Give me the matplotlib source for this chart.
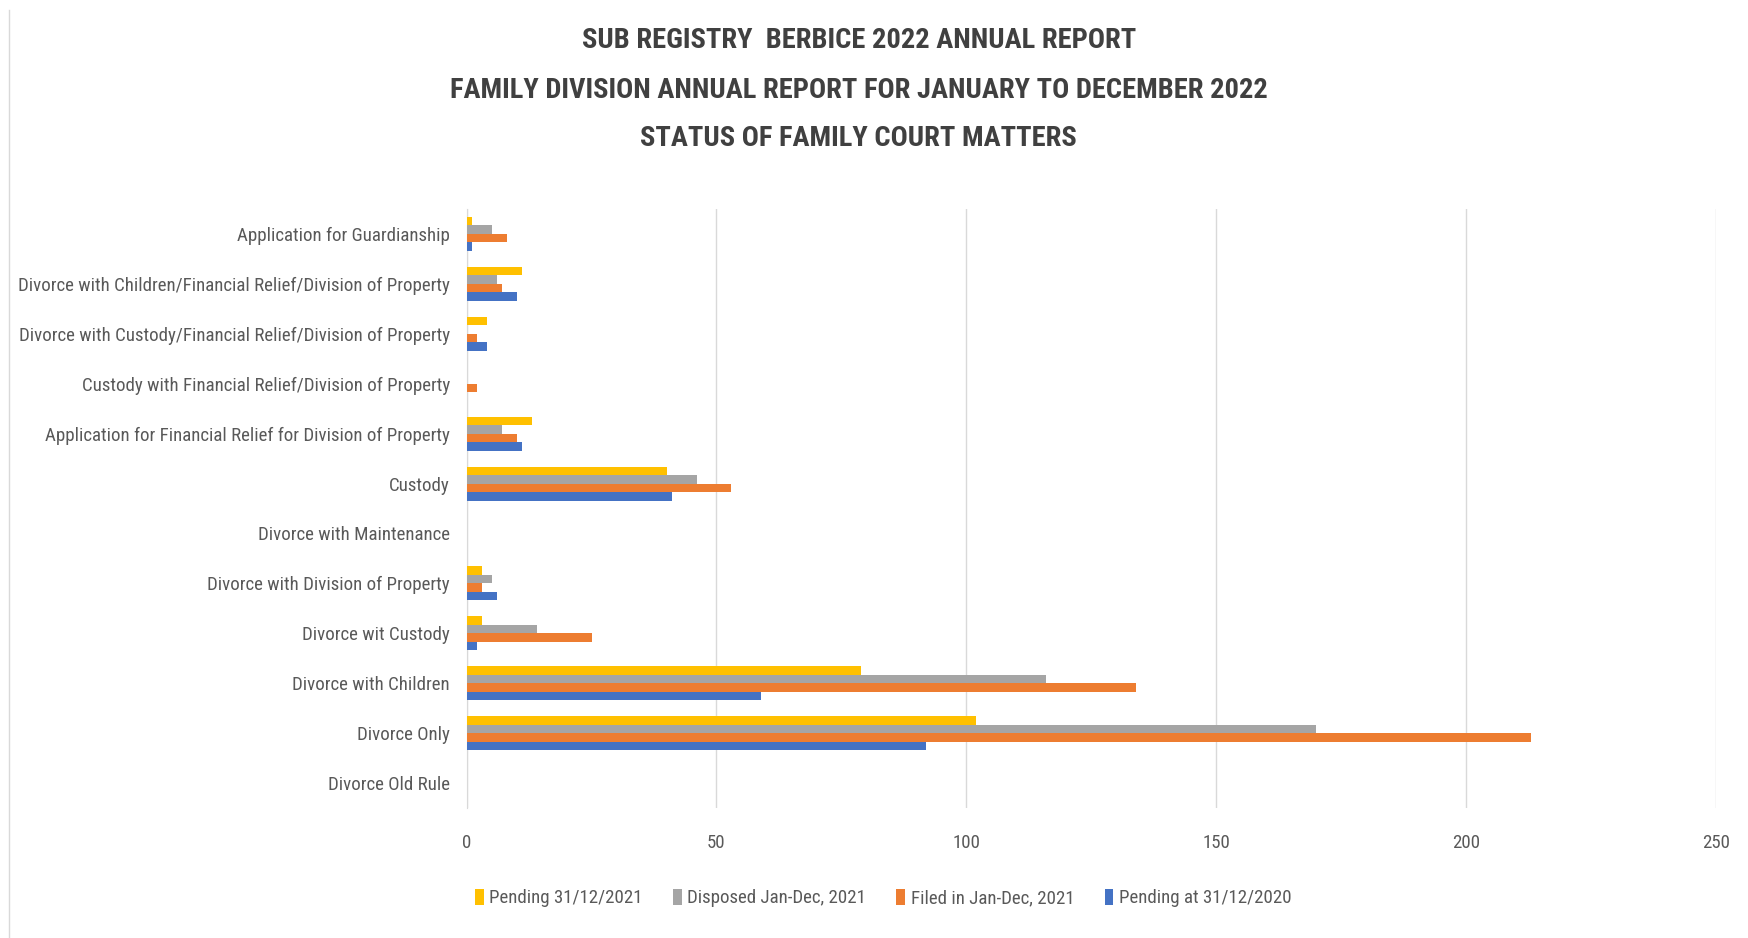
import os
import matplotlib
matplotlib.use("Agg")
import matplotlib.pyplot as plt
from matplotlib.lines import Line2D
from matplotlib.font_manager import FontProperties, fontManager
import numpy as np

plt.rcParams['font.family'] = ['Noto Sans', 'DejaVu Sans']

categories = [
    "Divorce Old Rule",
    "Divorce Only",
    "Divorce with Children",
    "Divorce wit Custody",
    "Divorce with Division of Property",
    "Divorce with Maintenance",
    "Custody",
    "Application for Financial Relief for Division of Property",
    "Custody with Financial Relief/Division of Property",
    "Divorce with Custody/Financial Relief/Division of Property",
    "Divorce with Children/Financial Relief/Division of Property",
    "Application for Guardianship",
]
pending_2020 = [0, 92, 59, 2, 6, 0, 41, 11, 0, 4, 10, 1]
filed_2021 = [0, 213, 134, 25, 3, 0, 53, 10, 2, 2, 7, 8]
disposed_2021 = [0, 170, 116, 14, 5, 0, 46, 7, 0, 0, 6, 5]
pending_2021 = [0, 102, 79, 3, 3, 0, 40, 13, 0, 4, 11, 1]

series_names = ["Pending at 31/12/2020", "Filed in Jan-Dec, 2021",
                "Disposed Jan-Dec, 2021", "Pending 31/12/2021"]
colors = ["#4472C4", "#ED7D31", "#A5A5A5", "#FFC000"]
xticks = [0, 50, 100, 150, 200, 250]
titles = ["SUB REGISTRY  BERBICE 2022 ANNUAL REPORT",
          "FAMILY DIVISION ANNUAL REPORT FOR JANUARY TO DECEMBER 2022",
          "STATUS OF FAMILY COURT MATTERS"]


def find_font(bold):
    patterns = ['notosans-extracondensed', 'liberationsansnarrow', 'robotocondensed',
                'opensanscondensed', 'opensans_condensed', 'notosans-condensed',
                'dejavusanscondensed']
    bad_reg = ['bold', 'light', 'thin', 'medium', 'black', 'semi', 'italic', 'oblique', 'extralight']
    for pat in patterns:
        for f in fontManager.ttflist:
            fn = os.path.basename(f.fname).lower().replace(' ', '')
            if pat not in fn:
                continue
            if 'italic' in fn or 'oblique' in fn:
                continue
            rest = fn.replace(pat, '')
            if bold:
                if 'bold' in rest and 'semi' not in rest and 'extrabold' not in rest:
                    return f.fname
            else:
                if not any(b in rest for b in bad_reg):
                    return f.fname
    return None


reg_path = find_font(False)
bold_path = find_font(True)


def fp(size, bold=False):
    path = bold_path if bold else reg_path
    if path:
        return FontProperties(fname=path, size=size)
    return FontProperties(family=['Roboto', 'DejaVu Sans'], size=size,
                          weight='bold' if bold else 'normal')


fig = plt.figure(figsize=(17.49, 9.38), dpi=100)
ax = fig.add_axes([0.2668, 0.1386, 0.7143, 0.6386])

y = np.arange(len(categories))
h = 0.17
data = [pending_2020, filed_2021, disposed_2021, pending_2021]
handles = []
for i, (vals, name, c) in enumerate(zip(data, series_names, colors)):
    off = (i - 1.5) * h
    b = ax.barh(y + off, vals, height=h, color=c, label=name, zorder=3)
    handles.append(b)

ax.set_ylim(-0.5, len(categories) - 0.5)
ax.set_xlim(0, 250)
ax.set_xticks(xticks)
ax.set_xticklabels([str(t) for t in xticks])
ax.set_yticks(y)
ax.set_yticklabels(categories)
ax.tick_params(axis='both', length=0, colors='#595959')
ax.tick_params(axis='x', pad=19)
ax.tick_params(axis='y', pad=12)
ax.grid(axis='x', color='#D9D9D9', linewidth=1, zorder=0)
for s in ['top', 'right', 'bottom']:
    ax.spines[s].set_visible(False)
ax.spines['left'].set_color('#D9D9D9')

# fit label size so that the longest category label is ~430 px wide
renderer = fig.canvas.get_renderer()
probe = fig.text(0, 0, categories[9], fontproperties=fp(10))
w10 = probe.get_window_extent(renderer).width
probe.remove()
lab_size = min(16.0, 10 * 430 / w10)
for lab in ax.get_yticklabels() + ax.get_xticklabels():
    lab.set_fontproperties(fp(lab_size))

# titles, fitted to the reference width of the second line (~814 px)
probe = fig.text(0, 0, titles[1], fontproperties=fp(10, True))
wt = probe.get_window_extent(renderer).width
probe.remove()
title_size = min(26.0, 10 * 814 / wt)
for t, yy in zip(titles, [40, 90, 139]):
    fig.text(0.491, 1 - yy / 938, t, ha='center', va='center',
             fontproperties=fp(title_size, True), color='#404040')

leg = fig.legend(handles[::-1], series_names[::-1], loc='center',
                 bbox_to_anchor=(0.505, 1 - 898 / 938), ncol=4, frameon=False,
                 prop=fp(lab_size), handlelength=0.45, handleheight=0.9,
                 handletextpad=0.3, columnspacing=1.6)
for txt in leg.get_texts():
    txt.set_color('#595959')

fig.add_artist(Line2D([9 / 1749, 9 / 1749], [0, 1 - 10 / 938],
                      transform=fig.transFigure, color='#D9D9D9', linewidth=1))

fig.savefig("out.png", dpi=100)
